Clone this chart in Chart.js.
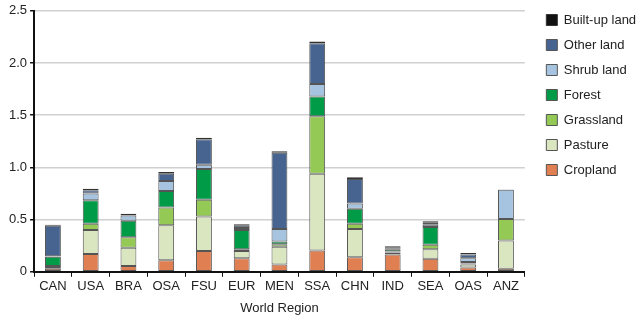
<!DOCTYPE html>
<html>
<head>
<meta charset="utf-8">
<script src="https://cdn.jsdelivr.net/npm/chart.js@4"></script>
<style>
  html,body{margin:0;padding:0;background:#fff;}
  #wrap{position:relative;width:640px;height:321px;}
</style>
</head>
<body>
<div id="wrap"><canvas id="landChart"></canvas></div>
<script>
// regions along the x axis
const regions = ['CAN','USA','BRA','OSA','FSU','EUR','MEN','SSA','CHN','IND','SEA','OAS','ANZ'];

// land-type segments per region, bottom to top
const cropland  = [0.03, 0.17, 0.055,0.11, 0.20, 0.13, 0.07, 0.205,0.14, 0.165,0.125,0.04, 0.03];
const pasture   = [0.015,0.23, 0.175,0.335,0.33, 0.07, 0.17, 0.735,0.27, 0.02, 0.09, 0.03, 0.27];
const grassland = [0.01, 0.06, 0.10, 0.17, 0.16, 0.015,0.025,0.55, 0.05, 0.01, 0.045,0.01, 0.205];
const forest    = [0.09, 0.225,0.16, 0.16, 0.295,0.185,0.025,0.19, 0.145,0.02, 0.17, 0.015,0.0];
const shrubland = [0.005,0.065,0.05, 0.095,0.04, 0.02, 0.12, 0.12, 0.05, 0.005,0.02, 0.035,0.28];
const otherland = [0.29, 0.03, 0.0,  0.07, 0.245,0.02, 0.73, 0.39, 0.235,0.01, 0.02, 0.035,0.0];
const builtup   = [0.01, 0.015,0.015,0.015,0.015,0.015,0.015,0.015,0.015,0.015,0.015,0.015,0.003];

const yTicks = [0, 0.5, 1.0, 1.5, 2.0, 2.5];

const FONT = 'Liberation Sans, Arial, Helvetica, sans-serif';
Chart.defaults.font.family = FONT;
Chart.defaults.color = '#222';

function ds(label, data, fill, edge){
  return {label, data, backgroundColor:fill, borderColor:edge||'#555', borderWidth:1,
          borderSkipped:false, barPercentage:0.42, categoryPercentage:1};
}

new Chart(document.getElementById('landChart'), {
  type:'bar',
  data:{
    labels:regions,
    datasets:[
      ds('Cropland',   cropland,  '#e07f52'),
      ds('Pasture',    pasture,   '#dae6c0'),
      ds('Grassland',  grassland, '#93c954'),
      ds('Forest',     forest,    '#009b46'),
      ds('Shrub land', shrubland, '#a6c3e0'),
      ds('Other land', otherland, '#46648f'),
      ds('Built-up land', builtup,'#111', '#333')
    ]
  },
  options:{
    responsive:true, maintainAspectRatio:false, animation:false,
    layout:{padding:{top:1.5,right:0,left:6,bottom:1}},
    scales:{
      x:{stacked:true,
         grid:{display:true, drawOnChartArea:false, tickLength:5, tickColor:'#111', offset:true},
         border:{color:'#111', width:2},
         ticks:{font:{size:13}, color:'#222', padding:2},
         title:{display:true, text:'World Region', font:{size:13}, color:'#222', padding:{top:4}}},
      y:{stacked:true, min:0, max:2.5,
         afterBuildTicks(axis){ axis.ticks = yTicks.map(v=>({value:v})); },
         afterFit(axis){ axis.paddingTop = Math.max(axis.paddingTop, 9.5); },
         grid:{color:'#d0d0d0', lineWidth:1.5, tickLength:4, tickColor:'#111'},
         border:{color:'#111', width:2},
         ticks:{font:{size:13}, color:'#222', padding:3,
                callback:v=> v===0 ? '0' : v.toFixed(1)}},
      // empty strip between plot and legend
      gap:{position:'right', display:true,
           grid:{display:false}, border:{display:false}, ticks:{display:false},
           afterFit(s){ s.width = 9.5; }}
    },
    plugins:{
      legend:{position:'right', align:'start', reverse:true,
              labels:{boxWidth:11, boxHeight:11, padding:12, font:{size:13}, color:'#222'}},
      tooltip:{enabled:false}
    }
  }
});
</script>
</body>
</html>
